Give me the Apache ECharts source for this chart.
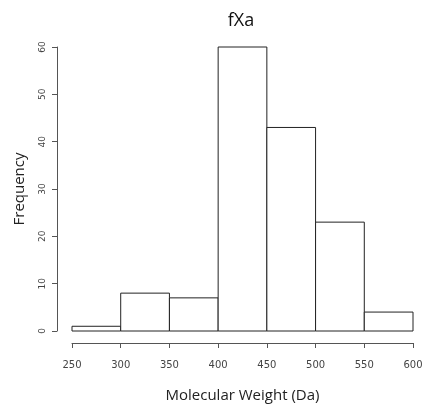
<!DOCTYPE html>
<html lang="en">
<head>
    <meta charset="UTF-8">
    <title>fXa</title>
    <style>
        html, body { margin: 0; padding: 0; width: 424px; height: 408px; background: #fff; }
        #main { width: 424px; height: 408px; }
    </style>
</head>
<body>
    <div id="main"></div>
    <script src="https://cdn.jsdelivr.net/npm/echarts@6/dist/echarts.min.js"></script>
    <script type="text/javascript">
        var binEdges = [250, 300, 350, 400, 450, 500, 550, 600];
        var counts = [1, 8, 7, 60, 43, 23, 4];
        var yTicks = [0, 10, 20, 30, 40, 50, 60];

        var bins = counts.map(function (c, i) {
            return [binEdges[i], binEdges[i + 1], c];
        });

        var myChart = echarts.init(document.getElementById('main'));
        var option = {
            animation: false,
            title: {
                text: 'fXa',
                left: 236,
                textAlign: 'center',
                top: 7,
                textStyle: { fontFamily: 'Open Sans', fontSize: 18, fontWeight: 'normal', color: '#111' }
            },
            grid: { left: 72, right: 11, top: 47, bottom: 77, outerBoundsMode: 'none' },
            xAxis: {
                type: 'value',
                min: binEdges[0],
                max: binEdges[binEdges.length - 1],
                interval: 50,
                offset: 12,
                name: 'Molecular Weight (Da)',
                nameLocation: 'middle',
                nameGap: 45,
                nameTextStyle: { fontFamily: 'Open Sans', fontSize: 15, color: '#222' },
                splitLine: { show: false },
                axisLine: { onZero: false, lineStyle: { color: '#555' } },
                axisTick: { length: 5, lineStyle: { color: '#555' } },
                axisLabel: { fontFamily: 'DejaVu Sans', fontSize: 10, color: '#444', margin: 17 }
            },
            yAxis: {
                type: 'value',
                min: yTicks[0],
                max: yTicks[yTicks.length - 1],
                interval: 10,
                offset: 15,
                name: 'Frequency',
                nameLocation: 'middle',
                nameGap: 30,
                nameTextStyle: { fontFamily: 'Open Sans', fontSize: 15, color: '#222' },
                splitLine: { show: false },
                axisLine: { show: true, onZero: false, lineStyle: { color: '#555' } },
                axisTick: { show: true, length: 5, lineStyle: { color: '#555' } },
                axisLabel: { rotate: 90, fontFamily: 'DejaVu Sans', fontSize: 9, color: '#444', margin: 10 }
            },
            series: [{
                type: 'custom',
                data: bins,
                encode: { x: [0, 1], y: 2 },
                renderItem: function (params, api) {
                    var p1 = api.coord([api.value(0), api.value(2)]);
                    var p2 = api.coord([api.value(1), 0]);
                    return {
                        type: 'rect',
                        shape: { x: p1[0], y: p1[1], width: p2[0] - p1[0], height: p2[1] - p1[1] },
                        style: { fill: '#fff', stroke: '#222', lineWidth: 1 }
                    };
                }
            }]
        };
        myChart.setOption(option);
    </script>
</body>
</html>
